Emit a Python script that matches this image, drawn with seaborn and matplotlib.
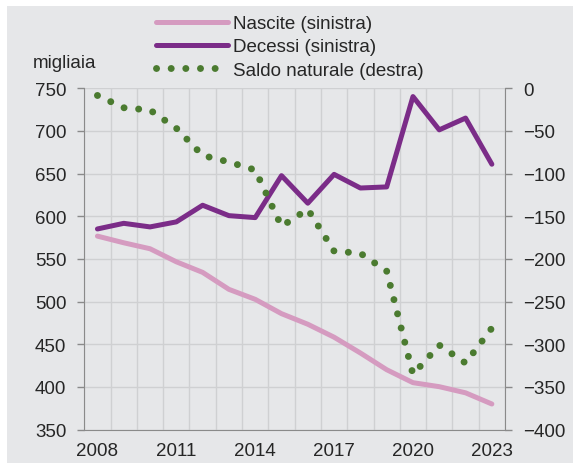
import pandas as pd
import seaborn as sns
import matplotlib.pyplot as plt
from matplotlib.patches import Rectangle

# dati (migliaia)
anni = list(range(2008, 2024))
nascite = [576.7, 568.9, 561.9, 546.6, 534.2, 514.3, 502.6, 485.8,
           473.4, 458.2, 439.7, 420.1, 404.9, 400.2, 393.0, 379.9]
decessi = [585.1, 591.7, 587.5, 593.4, 612.9, 600.7, 598.4, 647.6,
           615.3, 649.1, 633.1, 634.4, 740.3, 701.3, 715.1, 661.0]
saldo = [-8.4, -22.8, -25.5, -46.8, -78.7, -86.4, -95.8, -161.8,
         -141.8, -190.9, -193.4, -214.3, -335.4, -301.1, -322.1, -281.1]
anni_etichette = [2008, 2011, 2014, 2017, 2020, 2023]

df = pd.DataFrame({'anno': anni, 'nascite': nascite, 'decessi': decessi, 'saldo': saldo})

sns.set_style("white")
plt.rcParams['font.family'] = ['Liberation Sans', 'DejaVu Sans']
FS = 13.5

BG = '#e6e7e9'
GRID = '#cfd0d2'
SPINE = '#8a8a8a'
PINK = '#d59bc0'
PURPLE = '#7b2c88'
GREEN = '#4b7b30'

fig = plt.figure(figsize=(5.75, 4.64), dpi=100)
fig.patch.set_facecolor('white')
fig.patches.append(Rectangle((7 / 575, 0), 566 / 575, 457 / 464, transform=fig.transFigure,
                             facecolor=BG, edgecolor='none', zorder=-10))

ax = fig.add_axes([84.3 / 575, 33.5 / 464, 420.7 / 575, 341.2 / 464])
ax.set_facecolor(BG)
ax2 = ax.twinx()
ax2.set_facecolor('none')

sns.lineplot(ax=ax, data=df, x='anno', y='nascite', color=PINK, lw=3.6,
             solid_capstyle='round', label='Nascite (sinistra)', legend=False)
sns.lineplot(ax=ax, data=df, x='anno', y='decessi', color=PURPLE, lw=3.6,
             solid_capstyle='round', label='Decessi (sinistra)', legend=False)
sns.lineplot(ax=ax2, data=df, x='anno', y='saldo', color=GREEN, lw=5,
             linestyle=(0, (0.01, 2.1)), dash_capstyle='round',
             label='Saldo naturale (destra)', legend=False)

# assi
ax.set_xlim(2007.5, 2023.5)
ax.set_ylim(350, 750)
ax2.set_ylim(-400, 0)
ax.set_yticks(range(350, 751, 50))
ax2.set_yticks(range(-400, 1, 50))
ax.set_xticks([a - 0.5 for a in anni] + [2023.5])
ax.set_xticklabels([])
ax.set_xticks(anni_etichette, minor=True)
ax.set_xticklabels([str(a) for a in anni_etichette], minor=True)
ax.tick_params(axis='x', which='minor', length=0, pad=9, labelsize=FS)
ax.tick_params(axis='x', which='major', length=5, width=1, color=SPINE, direction='out')
ax.tick_params(axis='y', length=5, width=1, color=SPINE, pad=8, labelsize=FS, left=True)
ax2.tick_params(axis='y', length=5, width=1, color=SPINE, pad=8, labelsize=FS, right=True)
ax.set_xlabel('')
ax.set_ylabel('')
ax2.set_ylabel('')

ax.grid(True, which='major', color=GRID, lw=1)
ax.set_axisbelow(True)

for s in ['top', 'right']:
    ax.spines[s].set_visible(False)
for s in ['top', 'left', 'bottom']:
    ax2.spines[s].set_visible(False)
for s in ['left', 'bottom']:
    ax.spines[s].set_color(SPINE)
ax2.spines['right'].set_color(SPINE)

# legenda
handles = ax.get_lines()[:2] + ax2.get_lines()[:1]
labels = ['Nascite (sinistra)', 'Decessi (sinistra)', 'Saldo naturale (destra)']
fig.legend(handles, labels, loc='upper left', bbox_to_anchor=(156 / 575, 1 - 16 / 464),
           frameon=False, fontsize=FS, handlelength=3.85, handletextpad=0.25,
           labelspacing=0.33, borderpad=0, borderaxespad=0)

fig.text(33 / 575, 1 - 63 / 464, 'migliaia', fontsize=FS, va='center', ha='left')

plt.savefig('out.png', dpi=100, facecolor=fig.get_facecolor())
